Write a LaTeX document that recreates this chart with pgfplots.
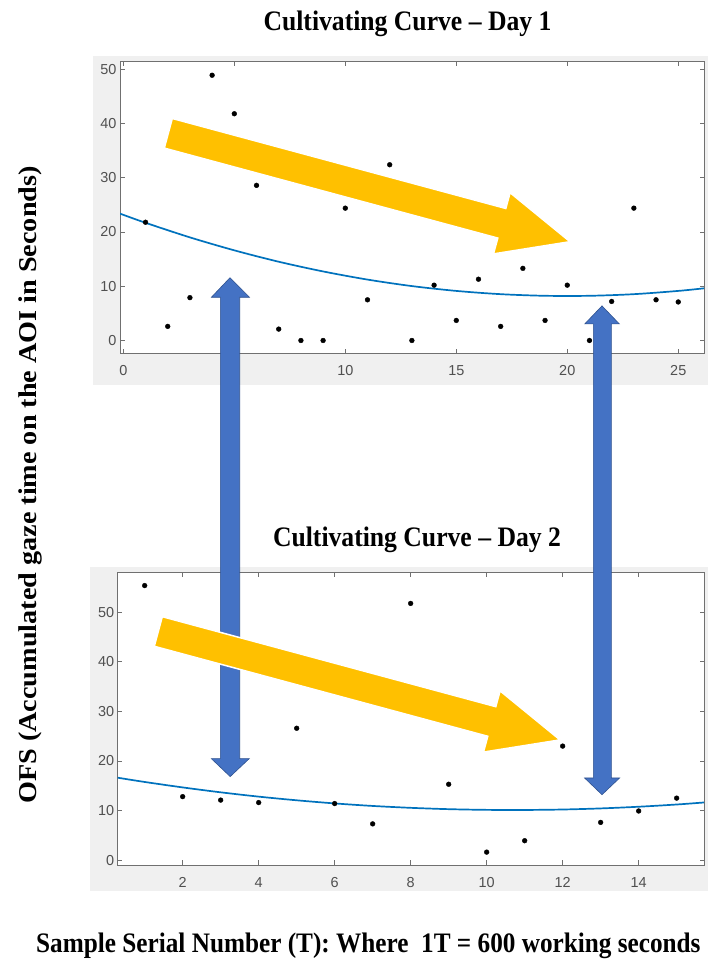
\documentclass[border=0pt]{standalone}
\usepackage{fontspec}
\setmainfont{Liberation Serif}
\setsansfont{Liberation Sans}
\usepackage{graphicx}
\usepackage{pgfplots}
\pgfplotsset{compat=1.18}
\definecolor{figgrey}{HTML}{F0F0F0}
\definecolor{axgrey}{HTML}{707070}
\definecolor{tickgrey}{HTML}{505050}
\definecolor{matblue}{RGB}{0,114,189}
\definecolor{arrowyellow}{HTML}{FFC000}
\definecolor{arrowblue}{HTML}{4472C4}
\definecolor{arrowblueedge}{HTML}{2F528F}
\newcommand{\bigtxt}[2][0.91]{\scalebox{#1}[1]{\fontsize{28.3}{32}\selectfont\bfseries #2}}
\pgfplotsset{
  matlab/.style={
    anchor=south west, scale only axis,
    axis background/.style={fill=white},
    axis line style={axgrey, line width=0.9bp},
    tick style={axgrey, line width=0.8bp},
    major tick length=4.5bp,
    tick align=inside,
    tick pos=both, ticklabel pos=left,
    every tick label/.append style={font=\fontsize{14.5}{16}\selectfont\sffamily, text=tickgrey},
    /pgf/number format/assume math mode=true,
    xticklabel style={yshift=-9bp},
    clip=true,
  }
}
\begin{document}
\begin{tikzpicture}
\begin{scope}[x=1bp,y=-1bp,shift={(0bp,959bp)}]
  \fill[figgrey] (92.7,56) rectangle (708,385);
  \fill[figgrey] (90,566.7) rectangle (708,890.7);
\end{scope}

% Day 1
\begin{axis}[matlab, at={(120bp,605.7bp)}, width=584bp, height=291.6bp,
  xmin=-0.15, xmax=26.16, ymin=-2.36, ymax=51.4,
  xtick={0,5,...,25}, ytick={0,10,...,50}]
  \addplot[smooth, line width=1.7bp, matblue] coordinates {
    (-0.15,23.39) (1,21.70) (3,19.01) (5,16.62) (7,14.52) (9,12.73) (11,11.23)
    (13,10.03) (15,9.14) (17,8.54) (19,8.24) (21,8.24) (23,8.54) (25,9.14) (26.16,9.62)};
  \addplot[only marks, mark=*, mark size=2.4bp, black] coordinates {
    (1,21.8) (2,2.6) (3,7.9) (4,48.9) (5,41.8) (6,28.6) (7,2.1) (8,0) (9,0)
    (10,24.4) (11,7.5) (12,32.4) (13,0) (14,10.2) (15,3.7) (16,11.3) (17,2.6)
    (18,13.3) (19,3.7) (20,10.2) (21,0) (22,7.2) (23,24.4) (24,7.5) (25,7.1)};
\end{axis}

% Day 2
\begin{axis}[matlab, at={(117.7bp,94bp)}, width=586.3bp, height=292.3bp,
  xmin=0.29, xmax=15.72, ymin=-1.0, ymax=58.0,
  xtick={2,4,...,14}, ytick={0,10,...,50}]
  \addplot[smooth, line width=1.7bp, matblue] coordinates {
    (0.29,16.62) (1,15.76) (2,14.66) (3,13.67) (4,12.80) (5,12.06) (6,11.43)
    (7,10.92) (8,10.54) (9,10.27) (10,10.13) (11,10.11) (12,10.20) (13,10.42)
    (14,10.76) (15,11.21) (15.72,11.62)};
  \addplot[only marks, mark=*, mark size=2.4bp, black] coordinates {
    (1,55.4) (2,12.8) (3,12.1) (4,11.6) (5,26.6) (6,11.4) (7,7.3) (8,51.8)
    (9,15.3) (10,1.6) (11,3.9) (12,23.0) (13,7.6) (14,9.9) (15,12.5)};
\end{axis}

\begin{scope}[x=1bp,y=-1bp,shift={(0bp,959bp)}]
  % blue double arrows
  \filldraw[fill=arrowblue, draw=arrowblueedge, line width=0.6bp]
    (230,277.7) -- (249.5,297.3) -- (239.7,297.3) -- (239.7,758.6) -- (249.3,758.6)
    -- (230.2,776.6) -- (211.3,758.6) -- (220.3,758.6) -- (220.3,297.3) -- (211.4,297.3) -- cycle;
  \filldraw[fill=arrowblue, draw=arrowblueedge, line width=0.6bp]
    (602,305.9) -- (619.3,323.9) -- (611.3,323.9) -- (611.3,778) -- (619.6,778)
    -- (602,794.7) -- (584.6,778) -- (593.4,778) -- (593.4,323.9) -- (584.8,323.9) -- cycle;
  % yellow arrows
  \foreach \dy/\dx in {0/0, 498.2/-10} {
    \begin{scope}[shift={(\dx,\dy)}]
      \filldraw[fill=arrowyellow, draw=white, line width=1.5bp]
        (172.3,118.5) -- (505.8,208.5) -- (510.1,192.7) -- (570,241.7)
        -- (493.5,253.9) -- (497.8,238.1) -- (164.3,148.1) -- cycle;
    \end{scope}
  }
  % texts
  \node[anchor=base, inner sep=0pt] at (407.5,30.5) {\bigtxt{Cultivating Curve – Day 1}};
  \node[anchor=base, inner sep=0pt] at (417,546.5) {\bigtxt{Cultivating Curve – Day 2}};
  \node[anchor=base west, inner sep=0pt] at (36,952.5) {\bigtxt[0.895]{Sample Serial Number (T): Where~ 1T = 600 working seconds}};
  \node[rotate=90, inner sep=0pt] at (30,485) {\scalebox{1}[0.91]{\fontsize{28.3}{32}\selectfont\bfseries OFS (Accumulated gaze time on the AOI in Seconds)}};
\end{scope}
\pgfresetboundingbox
\path[use as bounding box] (0,0) rectangle (708bp,959bp);
\end{tikzpicture}
\end{document}
